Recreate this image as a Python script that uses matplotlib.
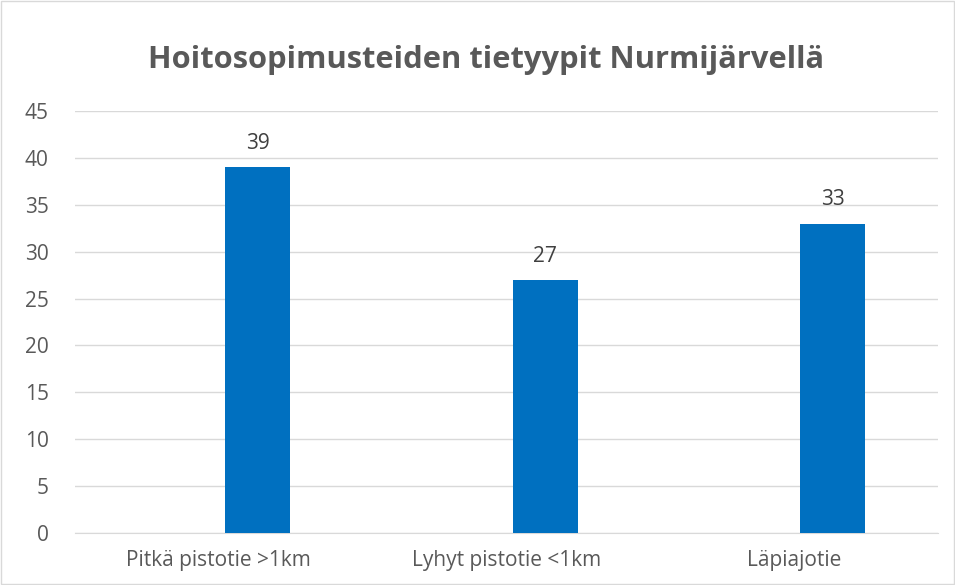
import matplotlib
matplotlib.use("Agg")
import matplotlib.pyplot as plt

# data
categories = ["Pitkä pistotie >1km", "Lyhyt pistotie <1km", "Läpiajotie"]
values = [39, 27, 33]
title = "Hoitosopimusteiden tietyypit Nurmijärvellä"

plt.rcParams['font.family'] = ['Open Sans', 'DejaVu Sans']

fig = plt.figure(figsize=(9.55, 5.85), dpi=100)
ax = fig.add_axes([0.0785, 0.0889, 0.9035, 0.7214])

x = list(range(len(categories)))
offset = 0.135  # bars sit right of the category centre in the original
bars = ax.bar([i + offset for i in x], values, width=0.226, color="#0070C0", zorder=3)
for b, v in zip(bars, values):
    ax.text(b.get_x() + b.get_width() / 2, v + 1.4, str(v), ha="center", va="bottom",
            fontsize=15, color="#404040")

ax.set_xlim(-0.5, len(categories) - 0.5)
ax.set_ylim(0, 45)
ax.set_yticks(range(0, 46, 5))
ax.set_xticks(x)
ax.set_xticklabels(categories)
ax.tick_params(axis="both", length=0, labelsize=15, labelcolor="#595959")
ax.tick_params(axis="y", pad=19)
ax.tick_params(axis="x", pad=12)
ax.grid(axis="y", color="#D9D9D9", linewidth=1, zorder=0)
for s in ["top", "right", "left"]:
    ax.spines[s].set_visible(False)
ax.spines["bottom"].set_color("#D9D9D9")

fig.text(0.509, 0.898, title, ha="center", va="center", fontsize=22.2,
         fontweight="bold", color="#595959")

# outer border
fig.patches.append(plt.Rectangle((0.001, 0.001), 0.998, 0.998, transform=fig.transFigure,
                                 fill=False, edgecolor="#D9D9D9", linewidth=1))

fig.savefig("out.png", dpi=100)
